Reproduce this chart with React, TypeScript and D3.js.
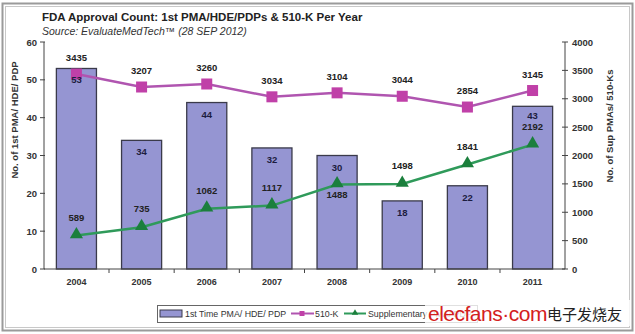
import React from "react";
import * as d3 from "d3";

const years = ["2004", "2005", "2006", "2007", "2008", "2009", "2010", "2011"];
const firstTime = [53, 34, 44, 32, 30, 18, 22, 43];
const k510 = [3435, 3207, 3260, 3034, 3104, 3044, 2854, 3145];
const supp = [589, 735, 1062, 1117, 1488, 1498, 1841, 2192];
const leftTicks = [0, 10, 20, 30, 40, 50, 60];
const rightTicks = [0, 500, 1000, 1500, 2000, 2500, 3000, 3500, 4000];
const suppBelow = [false, false, false, false, true, false, false, false];

const W = 635, H = 334;
const L = 44, R = 565, T = 42, B = 269;
const FONT = "'Liberation Sans', Arial, sans-serif";

export default function App() {
  const x = d3.scaleBand().domain(years).range([L, R]).paddingInner(0.385).paddingOuter(0.19);
  const yL = d3.scaleLinear().domain([0, 60]).range([B, T]);
  const yR = d3.scaleLinear().domain([0, 4000]).range([B, T]);
  const cx = (i: number) => (x(years[i]) as number) + x.bandwidth() / 2;
  const step = x.step();
  const line510 = d3.line<number>().x((_, i) => cx(i)).y((d) => yR(d));
  const tri = d3.symbol().type(d3.symbolTriangle).size(75);

  return (
    <svg width={W} height={H} style={{ position: "absolute", left: 0, top: 0, background: "#fff" }} fontFamily={FONT}>
      <rect x={2.5} y={3.5} width={630} height={327} fill="#fff" stroke="#9a9a9a" strokeWidth={2} />
      <rect x={5.5} y={6.5} width={624} height={321} fill="none" stroke="#c8c8c8" strokeWidth={1} />
      <text x={42} y={21} fontSize={11.5} fontWeight="bold" fill="#222">FDA Approval Count: 1st PMA/HDE/PDPs &amp; 510-K Per Year</text>
      <text x={42} y={35} fontSize={10.5} fontStyle="italic" fill="#333">Source: EvaluateMedTech™ (28 SEP 2012)</text>

      {/* bars */}
      {firstTime.map((v, i) => (
        <rect key={"b" + i} x={x(years[i])} y={yL(v)} width={x.bandwidth()} height={B - yL(v)} fill="#9595d2" stroke="#3a3a4a" strokeWidth={1.3} />
      ))}

      {/* left axis */}
      <line x1={L} x2={L} y1={T} y2={B} stroke="#444" />
      {leftTicks.map((t) => (
        <g key={"l" + t}>
          <line x1={L - 4} x2={L + 1} y1={yL(t)} y2={yL(t)} stroke="#444" />
          <text x={L - 7} y={yL(t) + 3.5} fontSize={9.5} fontWeight="bold" textAnchor="end" fill="#333">{t}</text>
        </g>
      ))}
      {/* right axis */}
      <line x1={R} x2={R} y1={T} y2={B} stroke="#444" />
      {rightTicks.map((t) => (
        <g key={"r" + t}>
          <line x1={R - 3} x2={R + 3} y1={yR(t)} y2={yR(t)} stroke="#444" />
          <text x={R + 7} y={yR(t) + 3.5} fontSize={9.5} fontWeight="bold" fill="#333">{t}</text>
        </g>
      ))}
      {/* x axis */}
      <line x1={L} x2={R} y1={B} y2={B} stroke="#444" />
      {years.map((yv, i) => (
        <g key={"x" + yv}>
          {i > 0 && <line x1={cx(i) - step / 2} x2={cx(i) - step / 2} y1={B} y2={B + 4} stroke="#444" />}
          <text x={cx(i)} y={B + 16} fontSize={9} fontWeight="bold" textAnchor="middle" fill="#333">{yv}</text>
        </g>
      ))}

      <text transform={`translate(18,120) rotate(-90)`} fontSize={9.5} fontWeight="bold" textAnchor="middle" fill="#333">No. of 1st PMA/ HDE/ PDP</text>
      <text transform={`translate(613,126) rotate(-90)`} fontSize={9.5} fontWeight="bold" textAnchor="middle" fill="#333">No. of Sup PMAs/ 510-Ks</text>

      {/* 510-K line */}
      <path d={line510(k510) || ""} fill="none" stroke="#b055b0" strokeWidth={2.5} />
      {k510.map((v, i) => (
        <rect key={"s" + i} x={cx(i) - 5.5} y={yR(v) - 5.5} width={11} height={11} fill="#c040a8" />
      ))}
      {/* Supplementary line */}
      <path d={line510(supp) || ""} fill="none" stroke="#2f9a5a" strokeWidth={2.5} />
      {supp.map((v, i) => (
        <path key={"t" + i} d={tri() || ""} transform={`translate(${cx(i)},${yR(v) - 1})`} fill="#1b7f3c" />
      ))}

      {/* bar labels */}
      {firstTime.map((v, i) => (
        <text key={"bl" + i} x={cx(i)} y={yL(v) + (i === 7 ? 13 : 15)} fontSize={9.5} fontWeight="bold" textAnchor="middle" fill="#1c1c40">{v}</text>
      ))}
      {k510.map((v, i) => (
        <text key={"kl" + i} x={cx(i)} y={yR(v) - 13} fontSize={9.5} fontWeight="bold" textAnchor="middle" fill="#222">{v}</text>
      ))}
      {supp.map((v, i) => (
        <text key={"sl" + i} x={cx(i)} y={suppBelow[i] ? yR(v) + 13 : yR(v) - 15} fontSize={9.5} fontWeight="bold" textAnchor="middle" fill="#222">{v}</text>
      ))}

      {/* legend */}
      <rect x={157.5} y={305.5} width={320} height={17} fill="#fff" stroke="#666" />
      <rect x={160} y={310} width={22} height={7} fill="#9595d2" stroke="#3a3a4a" />
      <text x={185} y={317} fontSize={8.8} fill="#333">1st Time PMA/ HDE/ PDP</text>
      <line x1={291} x2={314} y1={313.5} y2={313.5} stroke="#b055b0" strokeWidth={2} />
      <rect x={299.5} y={311} width={5} height={5} fill="#c040a8" />
      <text x={315} y={317} fontSize={8.8} fill="#333">510-K</text>
      <line x1={344} x2={366} y1={313.5} y2={313.5} stroke="#2f9a5a" strokeWidth={2} />
      <path d={d3.symbol().type(d3.symbolTriangle).size(18)() || ""} transform="translate(355,313)" fill="#1b7f3c" />
      <text x={368} y={317} fontSize={8.8} fill="#333">Supplementary PMA/ PDP</text>

      {/* watermark */}
      <rect x={425} y={300} width={206} height={26} fill="#fff" opacity={0.8} />
      <text x={428} y={321} fontSize={21} fill="#d42020" style={{ letterSpacing: "-0.5px" }}>elecfans·com</text>
      <text x={547} y={320} fontSize={15} fill="#222" fontFamily="'Noto Sans CJK SC', sans-serif">电子发烧友</text>
    </svg>
  );
}
